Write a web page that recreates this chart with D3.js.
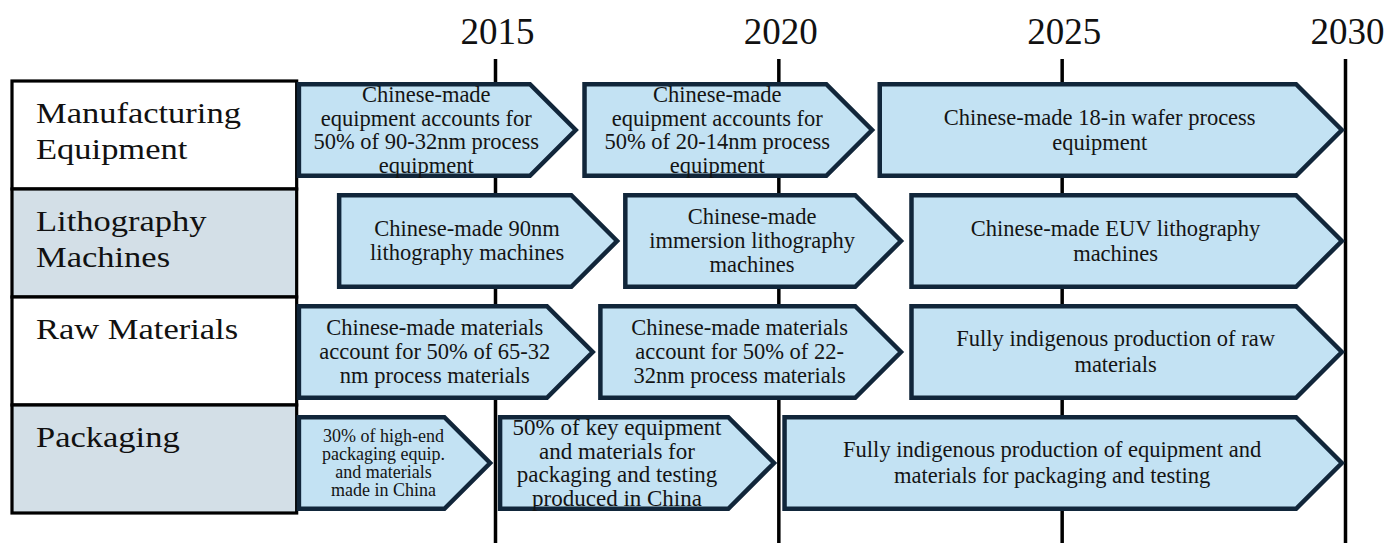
<!DOCTYPE html>
<html>
<head>
<meta charset="utf-8">
<script src="https://cdn.jsdelivr.net/npm/d3@7"></script>
<style>
  html, body { margin: 0; padding: 0; background: #ffffff; }
  svg { display: block; }
</style>
</head>
<body>
<svg id="chart" width="1390" height="543"></svg>
<script>
// ---------- data ----------
const years = [2015, 2020, 2025, 2030];
const categories = ["Manufacturing Equipment", "Lithography Machines", "Raw Materials", "Packaging"];
const categoryLines = [["Manufacturing", "Equipment"], ["Lithography", "Machines"], ["Raw Materials"], ["Packaging"]];
const chartStartYear = 2011.5;
const milestoneStart = [
  [2011.5, 2016.54, 2021.75],
  [2012.21, 2017.26, 2022.31],
  [2011.5, 2016.82, 2022.31],
  [2011.5, 2015.05, 2020.07]
];
const milestoneEnd = [
  [2016.48, 2021.71, 2030],
  [2017.21, 2022.22, 2030],
  [2016.78, 2022.22, 2030],
  [2014.97, 2019.98, 2030]
];
const milestoneText = [
  [["Chinese-made", "equipment accounts for", "50% of 90-32nm process", "equipment"],
   ["Chinese-made", "equipment accounts for", "50% of 20-14nm process", "equipment"],
   ["Chinese-made 18-in wafer process", "equipment"]],
  [["Chinese-made 90nm", "lithography machines"],
   ["Chinese-made", "immersion lithography", "machines"],
   ["Chinese-made EUV lithography", "machines"]],
  [["Chinese-made materials", "account for 50% of 65-32", "nm process materials"],
   ["Chinese-made materials", "account for 50% of 22-", "32nm process materials"],
   ["Fully indigenous production of raw", "materials"]],
  [["30% of high-end", "packaging equip.", "and materials", "made in China"],
   ["50% of key equipment", "and materials for", "packaging and testing", "produced in China"],
   ["Fully indigenous production of equipment and", "materials for packaging and testing"]]
];

// ---------- styles (kept apart from data) ----------
const textSizes = [[22.5, 22.5, 22.5], [22.5, 22.5, 22.5], [22.5, 22.5, 22.5], [18, 23, 22.5]];
const lineHeights = [[23.5, 23.5, 25], [24, 24, 25], [24, 24, 26], [18, 23.5, 26]];
const textShift = [[0, 0, 0], [0, 0, 0], [0, 0, 0], [0, -9, 0]];
const rowFills = ["#ffffff", "#d3dfe7", "#ffffff", "#d3dfe7"];
const arrowFill = "#c3e2f3";
const arrowStroke = "#11263a";
const serif = "'Liberation Serif', 'Times New Roman', serif";

// ---------- scales ----------
const svg = d3.select("#chart");
const x = d3.scaleLinear().domain([2015, 2030]).range([495, 1345]);
const rowBand = d3.scaleBand().domain(categories).range([81, 513]);
const arrowBand = d3.scaleBand().domain(categories).range([82, 511]).paddingInner(0.135);

// ---------- year axis (vertical guide lines) ----------
const axisTopY = 59;
const axis = d3.axisTop(x)
  .tickValues(years)
  .tickFormat(d3.format("d"))
  .tickSizeInner(-(543 - axisTopY))
  .tickSizeOuter(0)
  .tickPadding(15);
const gAxis = svg.append("g").attr("transform", `translate(0,${axisTopY})`).call(axis);
gAxis.select(".domain").remove();
gAxis.selectAll(".tick line").attr("stroke", "#000").attr("stroke-width", 3.5);
gAxis.selectAll(".tick text")
  .attr("font-family", serif)
  .attr("font-size", 37)
  .attr("fill", "#111")
  .attr("dx", 2);

// ---------- category label cells ----------
const labelX0 = 12, labelX1 = x(chartStartYear);
const gLabels = svg.append("g");
gLabels.selectAll("rect")
  .data(categories)
  .join("rect")
  .attr("x", labelX0)
  .attr("y", d => rowBand(d))
  .attr("width", labelX1 - labelX0)
  .attr("height", rowBand.bandwidth())
  .attr("fill", (d, i) => rowFills[i])
  .attr("stroke", "#000")
  .attr("stroke-width", 3.2);

gLabels.selectAll("text")
  .data(categories)
  .join("text")
  .attr("transform", d => `translate(36,${rowBand(d) + 42}) scale(1.15,1)`)
  .attr("font-family", serif)
  .attr("font-size", 30)
  .attr("fill", "#111")
  .each(function (d, i) {
    d3.select(this).selectAll("tspan")
      .data(categoryLines[i])
      .join("tspan")
      .attr("x", 0)
      .attr("dy", (t, j) => j === 0 ? 0 : 36)
      .text(t => t);
  });

// ---------- milestone arrows ----------
const sw = 4.5;
const depth = 46;
const milestones = [];
categories.forEach((c, r) => {
  milestoneStart[r].forEach((s, k) => {
    milestones.push({ cat: c, r, k, start: s, end: milestoneEnd[r][k], lines: milestoneText[r][k] });
  });
});

const gArrows = svg.append("g");
const arrowGroups = gArrows.selectAll("g.arrow")
  .data(milestones)
  .join("g")
  .attr("class", "arrow");

arrowGroups.append("path")
  .attr("d", d => {
    const top = arrowBand(d.cat) + sw / 2;
    const bottom = arrowBand(d.cat) + arrowBand.bandwidth() - sw / 2;
    const mid = (top + bottom) / 2;
    const x0 = x(d.start) + sw / 2;
    const tip = x(d.end) - sw * 0.7;
    const shoulder = tip - (bottom - top) / 2;
    return `M${x0},${top}L${shoulder},${top}L${tip},${mid}L${shoulder},${bottom}L${x0},${bottom}Z`;
  })
  .attr("fill", arrowFill)
  .attr("stroke", arrowStroke)
  .attr("stroke-width", sw)
  .attr("stroke-linejoin", "miter");

arrowGroups.append("text")
  .attr("font-family", serif)
  .attr("font-size", d => textSizes[d.r][d.k])
  .attr("fill", "#141414")
  .attr("text-anchor", "middle")
  .each(function (d) {
    const cx = (x(d.start) + x(d.end)) / 2 - depth / 4 + textShift[d.r][d.k];
    const cy = arrowBand(d.cat) + arrowBand.bandwidth() / 2;
    const lh = lineHeights[d.r][d.k];
    const fs = textSizes[d.r][d.k];
    const n = d.lines.length;
    const firstBaseline = cy - (n - 1) * lh / 2 + fs * 0.33;
    d3.select(this).selectAll("tspan")
      .data(d.lines)
      .join("tspan")
      .attr("x", cx)
      .attr("y", (t, j) => firstBaseline + j * lh)
      .text(t => t);
  });
</script>
</body>
</html>
